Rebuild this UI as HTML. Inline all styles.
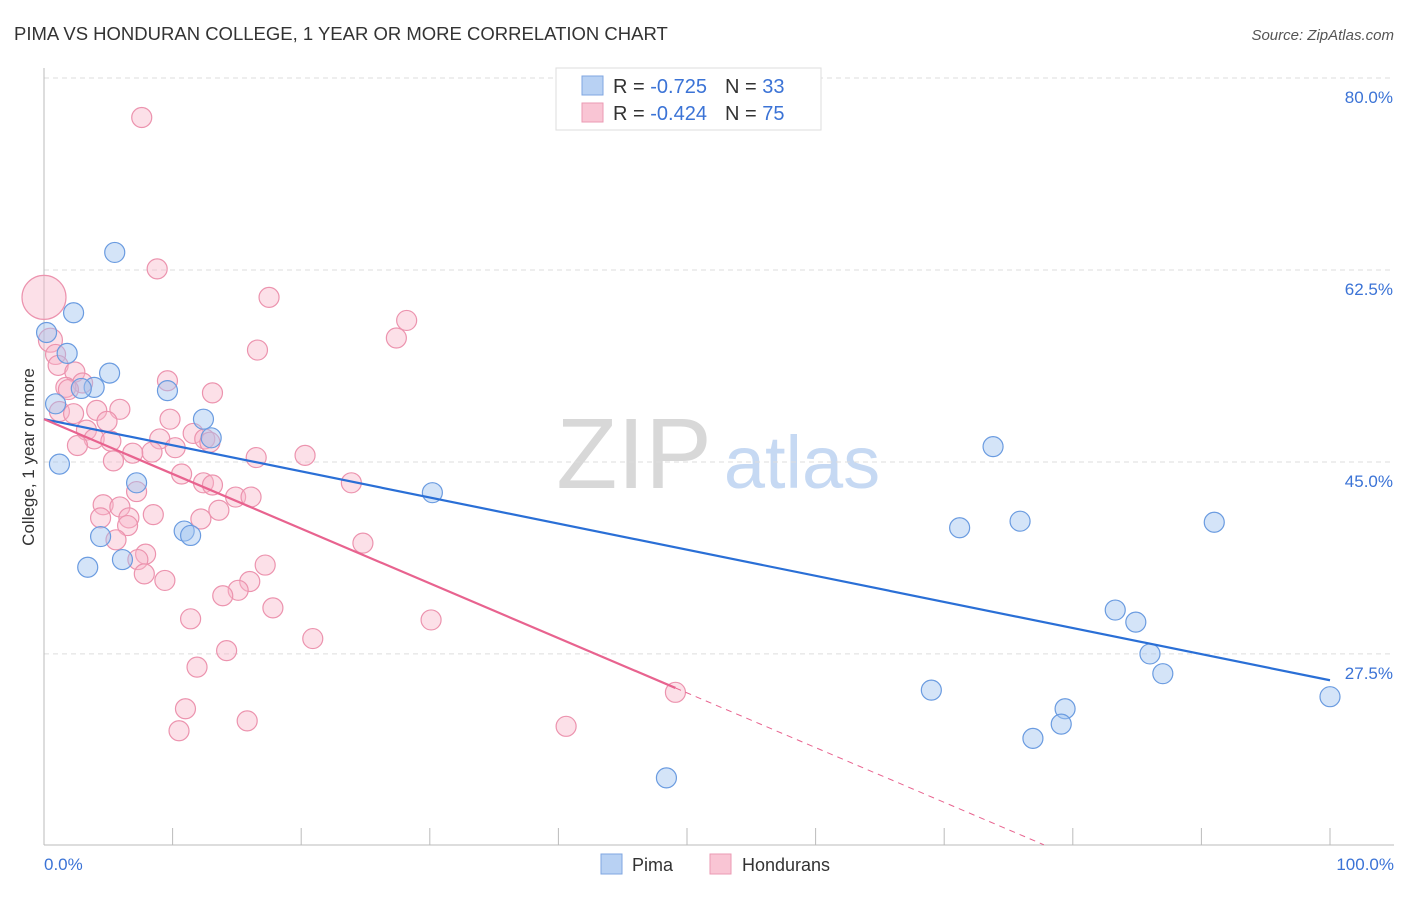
<!DOCTYPE html>
<html><head><meta charset="utf-8"><style>
body{margin:0;background:#fff;font-family:"Liberation Sans",sans-serif}
svg text{font-family:"Liberation Sans",sans-serif}
</style></head><body>
<svg id="chart" width="1406" height="892" xmlns="http://www.w3.org/2000/svg">
<text x="14" y="40" font-size="18.5" fill="#333">PIMA VS HONDURAN COLLEGE, 1 YEAR OR MORE CORRELATION CHART</text>
<text x="1394" y="40" font-size="15" fill="#555" text-anchor="end" font-style="italic">Source: ZipAtlas.com</text>
<g>
<text x="634" y="488" font-size="100" font-family="Liberation Serif" fill="#d8d8d8" text-anchor="middle">ZIP</text>
<text x="802" y="488" font-size="74" fill="#c6d9f3" text-anchor="middle">atlas</text>
</g>
<g id="grid"></g>
<line x1="44" y1="68" x2="44" y2="845" stroke="#bbb"/>
<line x1="44" y1="845" x2="1394" y2="845" stroke="#bbb"/>
<g id="xticks"></g>
<text transform="translate(34,457) rotate(-90)" font-size="17" fill="#333" text-anchor="middle">College, 1 year or more</text>
<text x="44" y="870" font-size="17" fill="#3b73d6">0.0%</text>
<text x="1394" y="870" font-size="17" fill="#3b73d6" text-anchor="end">100.0%</text>
<g id="points"></g>
<g id="lines"></g>
<g>
<rect x="556" y="68" width="265" height="62" fill="#fff" stroke="#ddd"/>
<rect x="582" y="76" width="21" height="19" fill="#b8d1f3" stroke="#7fa6e0"/>
<rect x="582" y="103" width="21" height="19" fill="#f9c5d4" stroke="#eb9ab3"/>
<text x="613" y="93" font-size="20" fill="#333">R = <tspan fill="#3b73d6">-0.725</tspan><tspan dx="18">N = </tspan><tspan fill="#3b73d6">33</tspan></text>
<text x="613" y="120" font-size="20" fill="#333">R = <tspan fill="#3b73d6">-0.424</tspan><tspan dx="18">N = </tspan><tspan fill="#3b73d6">75</tspan></text>
</g>
<g>
<rect x="601" y="854" width="21" height="20" fill="#b8d1f3" stroke="#7fa6e0"/>
<text x="632" y="871" font-size="18" fill="#333">Pima</text>
<rect x="710" y="854" width="21" height="20" fill="#f9c5d4" stroke="#eb9ab3"/>
<text x="742" y="871" font-size="18" fill="#333">Hondurans</text>
</g>
</svg>
<script>
const yTicks=[80,62.5,45,27.5];
const yTickLabels=["80.0%","62.5%","45.0%","27.5%"];
const xTicks=[10,20,30,40,50,60,70,80,90,100];
const pimaX=[5.5,2.3,0.2,1.8,5.1,3.9,2.9,9.6,0.9,12.4,13.0,1.2,7.2,30.2,73.8,10.9,11.4,4.4,3.4,6.1,71.2,75.9,91.0,83.3,84.9,86.0,87.0,69.0,100,79.4,79.1,76.9,48.4];
const pimaY=[64.1,58.6,56.8,54.9,53.1,51.8,51.7,51.5,50.3,48.9,47.2,44.8,43.1,42.2,46.4,38.7,38.3,38.2,35.4,36.1,39.0,39.6,39.5,31.5,30.4,27.5,25.7,24.2,23.6,22.5,21.1,19.8,16.2];
const hondX=[7.6,8.8,0,17.5,28.2,27.4,16.6,0.5,0.9,1.1,2.4,3.0,1.7,1.9,9.6,13.1,5.9,4.1,1.2,2.3,9.8,4.9,3.3,3.9,5.2,2.6,11.6,9.0,12.5,12.9,10.2,8.4,6.9,16.5,20.3,5.4,10.7,12.4,13.1,14.9,16.1,7.2,4.6,5.9,23.9,4.4,6.6,8.5,13.6,12.2,6.5,5.6,24.8,7.9,7.3,17.2,7.8,9.4,16.0,15.1,13.9,11.4,17.8,30.1,20.9,14.2,11.9,49.1,11.0,15.8,10.5,40.6];
const hondY=[76.4,62.6,60.0,60.0,57.9,56.3,55.2,56.1,54.8,53.8,53.2,52.2,51.8,51.6,52.4,51.3,49.8,49.7,49.6,49.4,48.9,48.7,47.9,47.1,46.9,46.5,47.6,47.1,47.1,46.8,46.3,45.9,45.8,45.4,45.6,45.1,43.9,43.1,42.9,41.8,41.8,42.3,41.1,40.9,43.1,39.9,39.9,40.2,40.6,39.8,39.2,37.9,37.6,36.6,36.1,35.6,34.8,34.2,34.1,33.3,32.8,30.7,31.7,30.6,28.9,27.8,26.3,24.0,22.5,21.4,20.5,20.9];
const hondR=[10,10,22,10,10,10,10,12,10,10,10,10,10,10,10,10,10,10,10,10,10,10,10,10,10,10,10,10,10,10,10,10,10,10,10,10,10,10,10,10,10,10,10,10,10,10,10,10,10,10,10,10,10,10,10,10,10,10,10,10,10,10,10,10,10,10,10,10,10,10,10,10];
const pimaLine=[48.9,25.1]; // y at x=0, x=100
const hondLine=[48.9,-0.499]; // intercept, slope
const hondSolidEnd=49.1;
const NS="http://www.w3.org/2000/svg";
const X=v=>44+v*12.86, Y=v=>78+(80-v)*10.97;
function mk(t,a,p){const e=document.createElementNS(NS,t);for(const k in a)e.setAttribute(k,a[k]);p.appendChild(e);return e;}
const grid=document.getElementById('grid');
yTicks.forEach((v,i)=>{
 const l=mk('line',{x1:44,x2:1394,y1:Y(v),y2:Y(v),stroke:'#ddd','stroke-dasharray':'5,4'},grid);
 
 
 const t=mk('text',{x:1393,y:Y(v)+25,'font-size':17,fill:'#3b73d6','text-anchor':'end'},grid);
 t.textContent=yTickLabels[i];
 
 
});
const xt=document.getElementById('xticks');
xTicks.forEach(v=>{
 const l=mk('line',{x1:X(v),x2:X(v),y1:828,y2:845,stroke:'#bbb'},xt);
 
 
});
const pts=document.getElementById('points');
hondX.forEach((v,i)=>{
 const c=mk('circle',{cx:X(v),cy:Y(hondY[i]),r:hondR[i],fill:'rgba(248,180,200,0.42)',stroke:'#ec93ae','stroke-width':1.2},pts);
 
 
});
pimaX.forEach((v,i)=>{
 const c=mk('circle',{cx:X(v),cy:Y(pimaY[i]),r:10,fill:'rgba(160,195,240,0.45)',stroke:'#6a9be0','stroke-width':1.2},pts);
 
 
});
const ln=document.getElementById('lines');
const pl=mk('line',{x1:X(0),y1:Y(pimaLine[0]),x2:X(100),y2:Y(pimaLine[1]),stroke:'#2a6fd6','stroke-width':2.2},ln);


const hy=x=>hondLine[0]+hondLine[1]*x;
const hl=mk('line',{x1:X(0),y1:Y(hy(0)),x2:X(hondSolidEnd),y2:Y(hy(hondSolidEnd)),stroke:'#e8638f','stroke-width':2.2},ln);


const xEnd=(hondLine[0]-10.1)/-hondLine[1];
const hd=mk('line',{x1:X(hondSolidEnd),y1:Y(hy(hondSolidEnd)),x2:X(xEnd),y2:Y(hy(xEnd)),stroke:'#e8638f','stroke-width':1,'stroke-dasharray':'6,5'},ln);


</script>
</body></html>
